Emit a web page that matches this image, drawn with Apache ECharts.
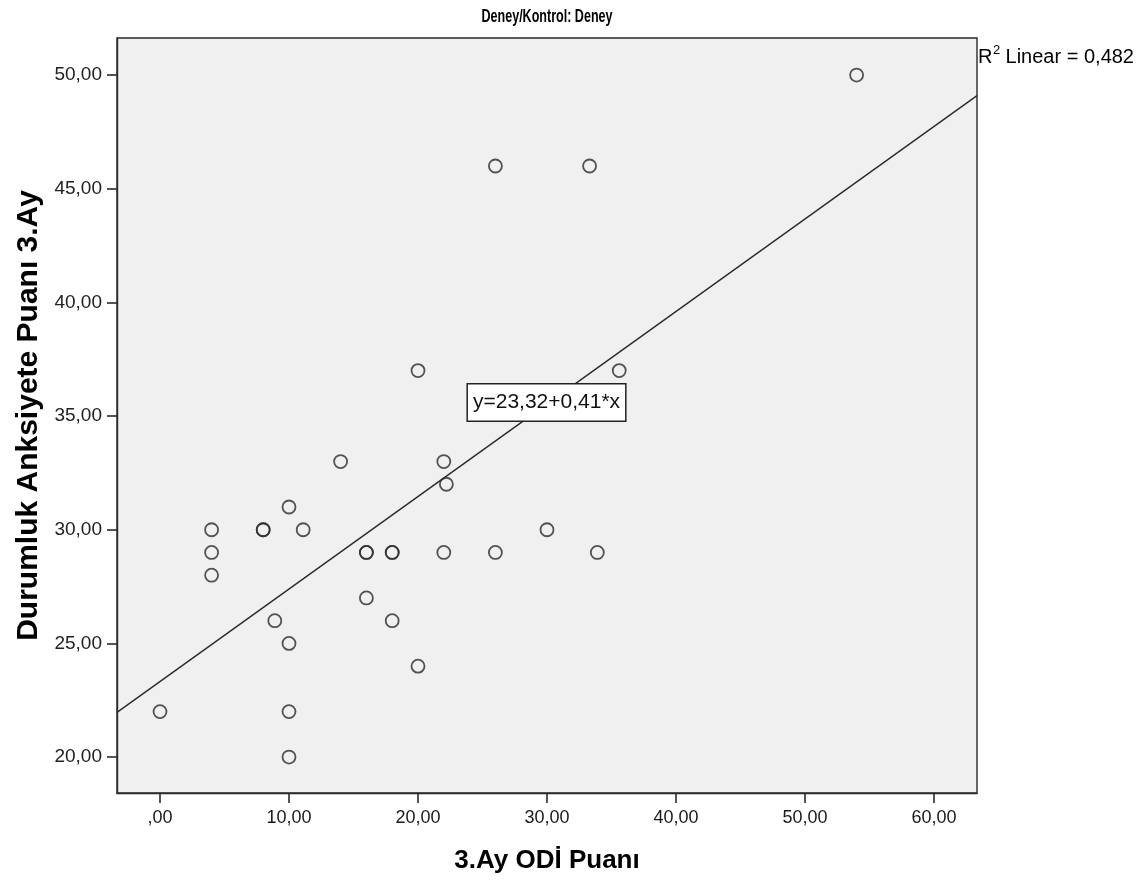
<!DOCTYPE html>
<html><head><meta charset="utf-8">
<script src="https://cdn.jsdelivr.net/npm/echarts@6/dist/echarts.min.js"></script>
<style>html,body{margin:0;padding:0;background:#fff}#c{width:1143px;height:883px}</style>
</head><body><div id="c"></div>
<script>
// Data
const odiScores  = [0, 4, 4, 4, 8, 8, 8.9, 10, 10, 10, 10, 11.1, 14, 16, 16, 16, 18, 18, 18, 20, 20, 22, 22.2, 22, 26, 26, 30, 33.3, 33.9, 35.6, 54];
const anxScores  = [22, 30, 29, 28, 30, 30, 26, 31, 25, 22, 20, 30, 33, 29, 29, 27, 29, 29, 26, 37, 24, 33, 32, 29, 46, 29, 30, 46, 29, 37, 50];
const xTickValues = [0, 10, 20, 30, 40, 50, 60];
const yTickValues = [20, 25, 30, 35, 40, 45, 50];
const fitIntercept = 23.32;
const fitSlope = 0.407;
const rSquared = '0,482';
const titleText = 'Deney/Kontrol: Deney';
const xTitle = '3.Ay ODİ Puanı';
const yTitle = 'Durumluk Anksiyete Puanı 3.Ay';
const equationText = 'y=23,32+0,41*x';

const X_MIN = -3.333, X_MAX = 63.333, Y_MIN = 18.42, Y_MAX = 51.63;

const points = odiScores.map((v, i) => [v, anxScores[i]]);
const fitLine = [X_MIN, X_MAX].map(x => [x, fitIntercept + fitSlope * x]);

function fmt(v) {
  let s = v.toFixed(2).replace('.', ',');
  if (s.startsWith('0,')) s = s.slice(1);
  return s;
}
const FONT = "'Liberation Sans',Arial,sans-serif";

const chart = echarts.init(document.getElementById('c'), null, {renderer: 'canvas'});
chart.setOption({
  animation: false,
  backgroundColor: '#ffffff',
  grid: {
    left: 117, right: 166, top: 38, bottom: 90,
    show: true, backgroundColor: '#f0f0f0', borderColor: '#2a2a2a', borderWidth: 1.4
  },
  xAxis: {
    type: 'value', min: X_MIN, max: X_MAX,
    name: xTitle, nameLocation: 'middle', nameGap: 55,
    nameTextStyle: {fontFamily: FONT, fontWeight: 'bold', fontSize: 26, color: '#000'},
    axisLine: {show: true, onZero: false, lineStyle: {color: '#2a2a2a', width: 1.4}},
    axisTick: {show: true, length: 10, customValues: xTickValues, lineStyle: {color: '#2a2a2a', width: 1.6}},
    axisLabel: {customValues: xTickValues, formatter: fmt, margin: 16, fontFamily: FONT, fontSize: 18, color: '#1a1a1a'},
    splitLine: {show: false}
  },
  yAxis: {
    type: 'value', min: Y_MIN, max: Y_MAX,
    name: yTitle, nameLocation: 'middle', nameGap: 72, nameRotate: 90,
    nameTextStyle: {fontFamily: FONT, fontWeight: 'bold', fontSize: 30, color: '#000'},
    axisLine: {show: true, onZero: false, lineStyle: {color: '#2a2a2a', width: 1.4}},
    axisTick: {show: true, length: 10, customValues: yTickValues, lineStyle: {color: '#2a2a2a', width: 1.6}},
    axisLabel: {customValues: yTickValues, formatter: fmt, margin: 15, fontFamily: FONT, fontSize: 19, color: '#222'},
    splitLine: {show: false}
  },
  series: [
    {
      type: 'line', data: fitLine, symbol: 'none', silent: true, z: 1,
      lineStyle: {color: '#2a2a2a', width: 1.4}
    },
    {
      type: 'scatter', data: points, symbol: 'circle', symbolSize: 13, z: 2,
      itemStyle: {color: 'rgba(0,0,0,0)', borderColor: '#2a2a2a', borderWidth: 1.8}
    }
  ],
  graphic: [
    {type: 'text', x: 547, y: 17, scaleX: 0.66, style: {text: titleText, fontFamily: FONT, fontWeight: 'bold', fontSize: 19, fill: '#000', align: 'center', verticalAlign: 'middle'}},
    {type: 'text', x: 978, y: 57, style: {text: 'R', fontFamily: FONT, fontSize: 20, fill: '#000', verticalAlign: 'middle', align: 'left'}},
    {type: 'text', x: 993, y: 50, style: {text: '2', fontFamily: FONT, fontSize: 13, fill: '#000', verticalAlign: 'middle', align: 'left'}},
    {type: 'text', x: 1000, y: 57, style: {text: ' Linear = ' + rSquared, fontFamily: FONT, fontSize: 20, fill: '#000', verticalAlign: 'middle', align: 'left'}},
    {type: 'text', x: 546.5, y: 402.5, z: 100, style: {
      text: equationText, fontFamily: FONT, fontSize: 21, fill: '#111',
      align: 'center', verticalAlign: 'middle', backgroundColor: '#fff', borderColor: '#222', borderWidth: 1.5, padding: [8, 5, 7, 5]
    }}
  ]
});
</script></body></html>
